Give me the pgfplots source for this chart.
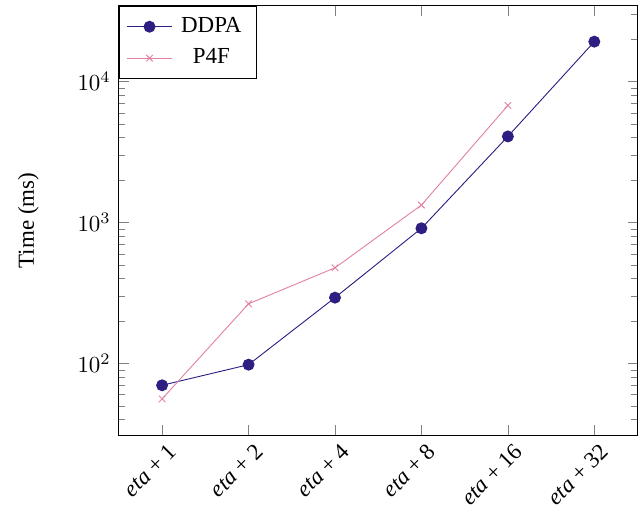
\documentclass[border=0pt]{standalone}
\usepackage{pgfplots}
\pgfplotsset{compat=1.18}
\usepackage{fontspec}
\setmainfont{Liberation Serif}
\definecolor{ddpa}{RGB}{46,30,130}
\definecolor{pff}{RGB}{225,130,165}
\begin{document}
\begin{tikzpicture}
\begin{axis}[
  name=ax,
  scale only axis,
  width=226pt, height=187pt,
  ymode=log,
  xmin=-0.5, xmax=5.5,
  ymin=31, ymax=34400,
  xtick={0,1,2,3,4,5},
  xticklabels={\textit{eta} + 1,\textit{eta} + 2,\textit{eta} + 4,\textit{eta} + 8,\textit{eta} + 16,\textit{eta} + 32},
  x tick label style={rotate=45, anchor=north east, inner sep=1.5pt, yshift=-2pt, xshift=1pt},
  ylabel={Time (ms)},
  ylabel shift=10pt,
  legend style={at={(0,1)}, anchor=north west, legend cell align=center,
    nodes={inner ysep=2.8pt, inner xsep=3.6pt}},
  legend image code/.code={\draw[mark repeat=2,mark phase=2] plot coordinates {(0cm,0cm) (0.35cm,0cm) (0.7cm,0cm)};},
]
\addplot[color=ddpa, mark=*, mark size=2.4pt] coordinates {
(0,70) (1,98) (2,293) (3,910) (4,4080) (5,19200)
};
\addlegendentry{DDPA}
\addplot[color=pff, mark=x, mark size=2pt] coordinates {
(0,56) (1,265) (2,477) (3,1330) (4,6770)
};
\addlegendentry{P4F}
\end{axis}
\path ([yshift=2.6pt]ax.north) circle (0pt);
\path ([xshift=-51.8pt,yshift=-32.7pt]ax.south west) circle (0pt);
\end{tikzpicture}
\end{document}
